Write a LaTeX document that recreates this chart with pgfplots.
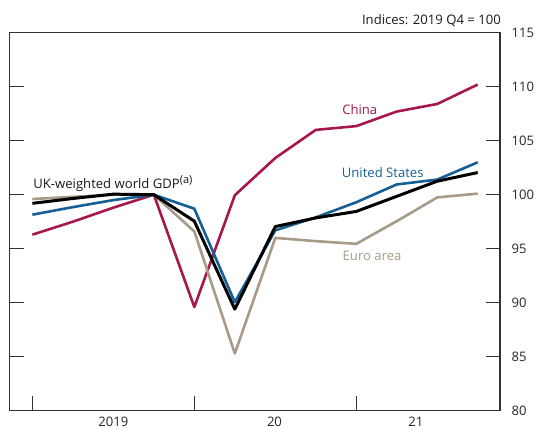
\documentclass[border=0pt]{standalone}
\usepackage{pgfplots}
\pgfplotsset{compat=1.18}
\usepackage{fontspec}
\setmainfont{Open Sans}
\definecolor{chinac}{RGB}{166,24,76}
\definecolor{usc}{RGB}{20,96,148}
\definecolor{euroc}{RGB}{168,154,136}
\definecolor{framec}{RGB}{50,50,50}
\newcommand{\fs}{\fontsize{13.1}{15}\selectfont}
\begin{document}
\begin{tikzpicture}
\path[use as bounding box] (0pt,0pt) rectangle (537pt,430pt);
\begin{axis}[
  at={(9.5pt,19.3pt)}, anchor=south west,
  width=490.5pt, height=378pt, scale only axis,
  xmin=-0.565, xmax=11.55, ymin=80, ymax=115,
  ytick={80,85,90,95,100,105,110,115},
  yticklabel pos=right,
  tick align=inside,
  major tick length=14.5pt,
  xtick={0,4,8}, xticklabels={},
  xtick pos=lower,
  extra x ticks={2,5.98,9.47},
  extra x tick labels={2019,20,21},
  extra x tick style={major tick length=0pt, xticklabel style={yshift=-3pt}},
  axis line style={line width=1.3pt, framec},
  every tick/.style={line width=1.3pt, framec},
  tick label style={font=\fs, text=black!85},
  /pgf/number format/assume math mode=true,
  yticklabel style={xshift=8pt},
  clip=false,
]
\addplot[chinac, line width=2.6pt, line join=round] coordinates {
(0,96.3) (1,97.5) (2,98.8) (3,100.0) (4,89.6) (5,99.95) (6,103.4) (7,106.0) (8,106.35) (9,107.7) (10,108.4) (11,110.2)};
\addplot[euroc, line width=2.6pt, line join=round] coordinates {
(0,99.6) (1,99.8) (2,100.0) (3,100.0) (4,96.6) (5,85.3) (6,96.0) (7,95.7) (8,95.45) (9,97.55) (10,99.75) (11,100.1)};
\addplot[usc, line width=2.6pt, line join=round] coordinates {
(0,98.15) (1,98.85) (2,99.5) (3,100.0) (4,98.7) (5,90.05) (6,96.7) (7,97.9) (8,99.3) (9,100.95) (10,101.4) (11,103.0)};
\addplot[black, line width=3pt, line join=round] coordinates {
(0,99.2) (1,99.65) (2,100.05) (3,100.0) (4,97.55) (5,89.4) (6,97.05) (7,97.85) (8,98.45) (9,99.85) (10,101.25) (11,102.05)};
\node[anchor=base west, inner sep=0pt, font=\fs, text=black!90] at (axis cs:0.02,100.6) {UK-weighted world GDP\raisebox{5pt}{\fontsize{11}{12}\selectfont(a)}};
\node[anchor=base west, inner sep=0pt, font=\fs, text=chinac] at (axis cs:7.65,107.4) {China};
\node[anchor=base west, inner sep=0pt, font=\fs, text=usc] at (axis cs:7.64,101.6) {United States};
\node[anchor=base west, inner sep=0pt, font=\fs, text=euroc] at (axis cs:7.66,93.92) {Euro area};
\end{axis}
\node[anchor=base east, inner sep=0pt, font=\fs, text=black!90] at (501pt,405.5pt) {Indices: 2019 Q4 = 100};
\end{tikzpicture}
\end{document}
